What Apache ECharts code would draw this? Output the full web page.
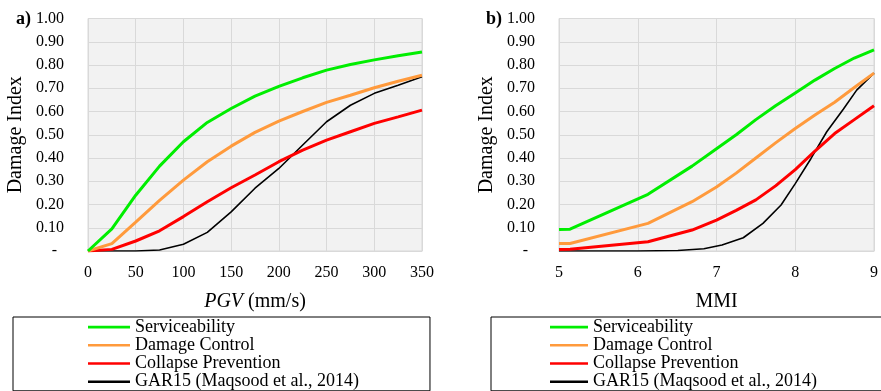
<!DOCTYPE html>
<html>
<head>
<meta charset="utf-8">
<script src="https://cdn.jsdelivr.net/npm/echarts@6/dist/echarts.min.js"></script>
<style>
  html, body { margin: 0; padding: 0; background: #fff; }
  #chart { width: 881px; height: 391px; }
</style>
</head>
<body>
<div id="chart"></div>
<script>
  // panel a) damage index vs PGV (mm/s)
  var pgv = [0, 25, 50, 75, 100, 125, 150, 175, 200, 225, 250, 275, 300, 325, 350]
  var aServ = [0, 0.095, 0.24, 0.365, 0.47, 0.553, 0.613, 0.666, 0.708, 0.745, 0.778, 0.802, 0.822, 0.84, 0.856]
  var aDC = [0, 0.032, 0.124, 0.218, 0.305, 0.384, 0.451, 0.51, 0.559, 0.6, 0.639, 0.67, 0.702, 0.73, 0.756]
  var aCP = [0, 0.007, 0.043, 0.087, 0.148, 0.212, 0.272, 0.327, 0.384, 0.434, 0.477, 0.513, 0.549, 0.577, 0.606]
  var aGAR = [0, 0, 0, 0.004, 0.029, 0.08, 0.168, 0.27, 0.355, 0.456, 0.556, 0.627, 0.678, 0.713, 0.749]

  // panel b) damage index vs MMI
  var mmiCurve = [5.0, 5.14, 6.13, 6.69, 7.0, 7.25, 7.5, 7.75, 8.0, 8.25, 8.5, 8.75, 9.0]
  var bServ = [0.092, 0.094, 0.244, 0.365, 0.44, 0.5, 0.565, 0.625, 0.68, 0.735, 0.785, 0.83, 0.865]
  var bDC = [0.032, 0.032, 0.119, 0.212, 0.275, 0.335, 0.4, 0.465, 0.527, 0.585, 0.64, 0.703, 0.765]
  var bCP = [0.006, 0.008, 0.04, 0.09, 0.133, 0.175, 0.22, 0.28, 0.35, 0.43, 0.505, 0.565, 0.625]
  var mmiGAR = [5.0, 6.0, 6.51, 6.84, 7.07, 7.34, 7.59, 7.82, 8.0, 8.2, 8.4, 8.61, 8.78, 9.0]
  var bGAR = [0, 0, 0.002, 0.01, 0.026, 0.057, 0.119, 0.198, 0.29, 0.398, 0.513, 0.61, 0.692, 0.765]

  var names = ['Serviceability', 'Damage Control', 'Collapse Prevention', 'GAR15 (Maqsood et al., 2014)']
  var colors = ['#00ee00', '#ff9a3c', '#ff0000', '#000000']
  var widths = [3, 3, 3, 1.6]

  var font = 'Liberation Serif'

  function pairs(xs, ys) {
    var out = []
    for (var i = 0; i < xs.length; i++) {
      out.push([xs[i], ys[i]])
    }
    return out
  }

  function yAxis(idx) {
    return {
      type: 'value',
      gridIndex: idx,
      min: 0,
      max: 1,
      interval: 0.1,
      name: 'Damage Index',
      nameLocation: 'middle',
      nameGap: 62,
      nameTextStyle: { fontFamily: font, fontSize: 20, color: '#000' },
      axisLine: { show: true, lineStyle: { color: '#d9d9d9' } },
      axisTick: { show: false },
      splitLine: { show: true, lineStyle: { color: '#d9d9d9', width: 1 } },
      axisLabel: {
        margin: 24,
        fontFamily: font,
        fontSize: 16,
        color: '#000',
        formatter: function (v) {
          if (v === 0) return '{d|-}'
          return v.toFixed(2)
        },
        rich: { d: { fontFamily: font, fontSize: 16, color: '#000', padding: [0, 7, 0, 0] } }
      }
    }
  }

  function mkSeries(gridIdx, data, k) {
    return {
      name: names[k],
      type: 'line',
      xAxisIndex: gridIdx,
      yAxisIndex: gridIdx,
      data: data,
      symbol: 'none',
      smooth: false,
      lineStyle: { color: colors[k], width: widths[k] },
      itemStyle: { color: colors[k] },
      z: 10 - k
    }
  }

  // legend entries drawn as plain bars (thin one for GAR15)
  var legendData = names.map(function (n, k) {
    return { name: n, icon: 'rect', itemStyle: { color: colors[k] } }
  })

  var legendBase = {
    orient: 'vertical',
    top: 317,
    itemGap: 0,
    itemHeight: 2.6,
    borderColor: '#000',
    borderWidth: 1,
    textStyle: { fontFamily: font, fontSize: 18, color: '#000', lineHeight: 18.2 },
    data: legendData
  }

  var chart = echarts.init(document.getElementById('chart'))
  chart.setOption({
    animation: false,
    backgroundColor: '#fff',
    title: [
      { text: 'a)', left: 16, top: 10, padding: 0, textStyle: { fontFamily: font, fontSize: 18, fontWeight: 'bold', color: '#000' } },
      { text: 'b)', left: 486, top: 10, padding: 0, textStyle: { fontFamily: font, fontSize: 18, fontWeight: 'bold', color: '#000' } }
    ],
    legend: [
      Object.assign({}, legendBase, { left: 13, itemWidth: 42, padding: [1, 71, 0, 75] }),
      Object.assign({}, legendBase, { left: 491, itemWidth: 38, padding: [1, 71, 0, 59] })
    ],
    grid: [
      { left: 88, top: 18.5, width: 334, height: 232.5, show: true, backgroundColor: '#f2f2f2', borderColor: '#d9d9d9', borderWidth: 1 },
      { left: 559, top: 18.5, width: 320, height: 232.5, show: true, backgroundColor: '#f2f2f2', borderColor: '#d9d9d9', borderWidth: 1 }
    ],
    xAxis: [
      {
        type: 'value',
        gridIndex: 0,
        min: 0,
        max: 350,
        interval: 50,
        name: '{i|PGV} (mm/s)',
        nameLocation: 'middle',
        nameGap: 41,
        nameTextStyle: {
          fontFamily: font, fontSize: 20, color: '#000',
          rich: { i: { fontFamily: font, fontSize: 20, fontStyle: 'italic', color: '#000' } }
        },
        axisLine: { show: true, lineStyle: { color: '#d9d9d9' } },
        axisTick: { show: false },
        splitLine: { show: true, lineStyle: { color: '#d9d9d9', width: 1 } },
        axisLabel: { margin: 14, fontFamily: font, fontSize: 16, color: '#000' }
      },
      {
        type: 'value',
        gridIndex: 1,
        min: 5,
        max: 9,
        interval: 1,
        name: 'MMI',
        nameLocation: 'middle',
        nameGap: 41,
        nameTextStyle: { fontFamily: font, fontSize: 20, color: '#000' },
        axisLine: { show: true, lineStyle: { color: '#d9d9d9' } },
        axisTick: { show: false },
        splitLine: { show: true, lineStyle: { color: '#d9d9d9', width: 1 } },
        axisLabel: { margin: 14, fontFamily: font, fontSize: 16, color: '#000', showMaxLabel: true }
      }
    ],
    yAxis: [yAxis(0), yAxis(1)],
    series: [
      mkSeries(0, pairs(pgv, aServ), 0),
      mkSeries(0, pairs(pgv, aDC), 1),
      mkSeries(0, pairs(pgv, aCP), 2),
      mkSeries(0, pairs(pgv, aGAR), 3),
      mkSeries(1, pairs(mmiCurve, bServ), 0),
      mkSeries(1, pairs(mmiCurve, bDC), 1),
      mkSeries(1, pairs(mmiCurve, bCP), 2),
      mkSeries(1, pairs(mmiGAR, bGAR), 3)
    ]
  })
</script>
</body>
</html>
